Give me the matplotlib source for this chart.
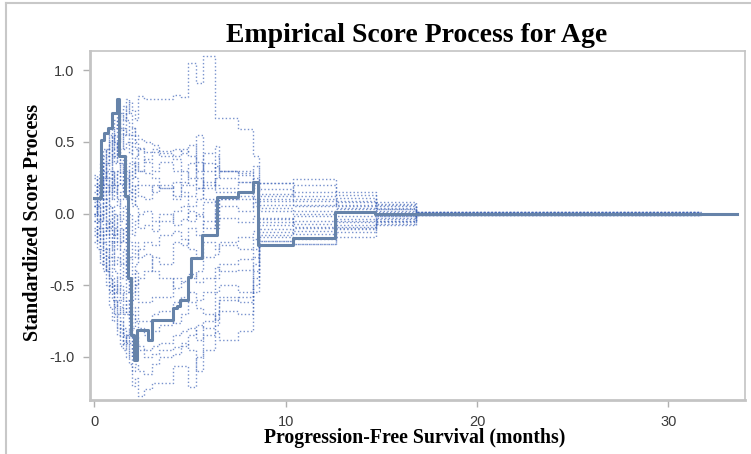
import matplotlib
matplotlib.use("Agg")
import matplotlib.pyplot as plt
from matplotlib.lines import Line2D

# event-time grid shared by the simulated paths (months)
sim_t = [0.0, 0.15, 0.3, 0.45, 0.6, 0.75, 0.9, 1.05, 1.2, 1.35, 1.5, 1.65, 1.8, 1.95, 2.1,
         2.3, 2.6, 3.0, 3.4, 4.1, 4.5, 4.9, 5.3, 5.7, 6.3, 6.5, 7.5, 8.3, 8.6, 10.4, 12.6, 14.7, 16.8]
sim_end = 31.7

# simulated score paths (dotted)
sim_paths = [
    [0.0, 0.1, 0.2, 0.15, 0.3, 0.25, 0.4, 0.35, 0.5, 0.6, 0.55, 0.7, 0.78, 0.72, 0.65,
     0.82, 0.80, 0.80, 0.80, 0.83, 0.81, 1.05, 0.91, 1.10, 0.67, 0.67, 0.59, 0.40, 0.21, 0.24, 0.15, 0.08, 0.01],
    [-0.05, -0.15, -0.1, -0.3, -0.25, -0.45, -0.5, -0.65, -0.6, -0.8, -0.9, -0.85, -1.05, -1.2, -1.15,
     -1.27, -1.22, -1.18, -1.18, -1.06, -1.06, -1.21, -1.0, -0.75, -0.55, -0.5, -0.55, -0.35, -0.19, -0.21, -0.16, -0.08, -0.012],
    [0.05, 0.12, 0.25, 0.2, 0.35, 0.3, 0.45, 0.4, 0.5, 0.55, 0.45, 0.5, 0.42, 0.55, 0.45,
     0.45, 0.36, 0.30, 0.36, 0.30, 0.22, 0.20, 0.55, 0.20, 0.40, 0.30, 0.28, 0.33, 0.14, 0.09, 0.05, 0.04, 0.01],
    [0.1, 0.05, 0.15, 0.0, 0.1, -0.1, 0.05, -0.15, 0.0, -0.2, -0.1, -0.35, -0.3, -0.5, -0.4,
     -0.62, -0.62, -0.58, -0.58, -0.45, -0.47, -0.42, -0.48, -0.45, -0.37, -0.40, -0.39, -0.30, -0.13, -0.10, -0.08, -0.05, -0.008],
    [0.15, 0.25, 0.2, 0.3, 0.15, 0.25, 0.1, 0.2, 0.05, 0.15, 0.3, 0.2, 0.35, 0.25, 0.4,
     0.46, 0.43, 0.43, 0.40, 0.38, 0.30, 0.25, 0.18, 0.42, 0.47, 0.30, 0.30, 0.22, 0.06, 0.06, 0.08, 0.03, 0.005],
    [-0.1, -0.2, -0.15, -0.35, -0.4, -0.3, -0.55, -0.5, -0.7, -0.65, -0.85, -0.9, -0.8, -1.0, -0.9,
     -0.92, -0.95, -0.92, -0.90, -0.85, -0.82, -0.80, -0.88, -0.85, -0.82, -0.88, -0.82, -0.55, -0.19, -0.21, -0.13, -0.07, -0.01],
    [0.2, 0.1, 0.28, 0.15, 0.05, 0.2, 0.3, 0.15, 0.3, 0.2, 0.1, 0.25, 0.15, 0.05, 0.2,
     0.12, 0.10, 0.20, 0.18, 0.10, 0.12, 0.05, 0.10, 0.18, 0.25, 0.30, 0.27, 0.20, 0.21, 0.15, 0.11, 0.06, 0.012],
    [-0.15, -0.05, -0.25, -0.2, -0.4, -0.55, -0.45, -0.7, -0.85, -0.75, -0.95, -0.85, -0.7, -0.8, -0.65,
     -0.75, -0.75, -0.70, -0.68, -0.76, -0.70, -0.62, -0.66, -0.70, -0.74, -0.60, -0.58, -0.40, -0.08, -0.05, -0.10, -0.03, -0.005],
    [0.0, 0.2, 0.1, 0.35, 0.45, 0.35, 0.55, 0.5, 0.35, 0.45, 0.6, 0.55, 0.5, 0.35, 0.25,
     0.20, 0.20, 0.15, 0.20, 0.12, 0.20, 0.35, 0.25, 0.10, 0.05, 0.10, 0.15, 0.10, 0.02, 0.02, 0.03, -0.01, 0.004],
    [-0.05, 0.05, -0.1, -0.2, -0.05, -0.25, -0.15, -0.35, -0.3, -0.45, -0.35, -0.55, -0.45, -0.6, -0.5,
     -0.45, -0.40, -0.30, -0.35, -0.20, -0.22, -0.10, -0.15, -0.05, -0.10, -0.03, -0.06, -0.02, -0.03, -0.07, -0.04, -0.02, -0.003],
    [0.25, 0.15, 0.3, 0.4, 0.25, 0.15, 0.3, 0.2, 0.1, -0.05, 0.05, -0.1, 0.0, -0.15, -0.05,
     0.0, 0.02, -0.05, 0.00, -0.08, -0.04, 0.02, -0.02, 0.08, -0.05, 0.05, 0.02, 0.08, 0.10, 0.10, 0.06, 0.02, 0.002],
    [0.05, -0.05, 0.0, -0.15, -0.1, -0.3, -0.2, -0.4, -0.55, -0.5, -0.7, -0.6, -0.75, -0.9, -0.85,
     -0.95, -1.0, -0.98, -0.95, -0.93, -0.90, -0.95, -1.10, -0.95, -0.70, -0.58, -0.62, -0.50, -0.16, -0.18, -0.11, -0.06, -0.009],
    [0.1, 0.2, 0.35, 0.25, 0.45, 0.55, 0.45, 0.6, 0.7, 0.6, 0.75, 0.65, 0.55, 0.6, 0.5,
     0.30, 0.28, 0.25, 0.18, 0.22, 0.15, 0.12, 0.18, 0.22, 0.20, 0.18, 0.22, 0.25, 0.17, 0.12, 0.09, 0.05, 0.007],
    [-0.2, -0.1, -0.3, -0.4, -0.3, -0.5, -0.6, -0.55, -0.45, -0.6, -0.55, -0.7, -0.6, -0.55, -0.35,
     -0.25, -0.20, -0.22, -0.15, -0.12, -0.18, -0.25, -0.30, -0.20, -0.25, -0.22, -0.25, -0.18, -0.11, -0.14, -0.06, -0.04, -0.006],
    [0.0, -0.1, 0.05, 0.1, 0.2, 0.1, 0.2, 0.3, 0.2, 0.35, 0.2, 0.3, 0.1, 0.2, 0.05,
     -0.10, -0.08, -0.12, -0.05, 0.02, 0.05, -0.05, 0.00, -0.10, 0.02, 0.10, 0.12, 0.05, 0.04, 0.00, 0.01, 0.01, -0.002],
    [0.05, 0.0, -0.05, 0.05, -0.15, -0.05, -0.2, -0.1, -0.25, -0.1, -0.2, -0.05, -0.2, -0.3, -0.2,
     -0.30, -0.28, -0.40, -0.45, -0.52, -0.48, -0.45, -0.40, -0.30, -0.28, -0.20, -0.16, -0.12, -0.06, -0.02, -0.02, 0.00, -0.001],
    [0.27, 0.2, 0.1, 0.25, 0.35, 0.5, 0.4, 0.55, 0.45, 0.3, 0.4, 0.3, 0.15, 0.3, 0.35,
     0.30, 0.38, 0.45, 0.42, 0.40, 0.45, 0.40, 0.30, 0.35, 0.15, 0.15, 0.10, 0.12, 0.09, 0.05, 0.04, 0.03, 0.006],
    [-0.12, -0.25, -0.35, -0.25, -0.5, -0.65, -0.75, -0.6, -0.8, -0.92, -0.8, -1.0, -0.9, -1.1, -1.05,
     -1.10, -1.12, -1.05, -1.00, -0.98, -0.92, -0.85, -0.78, -0.80, -0.78, -0.68, -0.70, -0.45, -0.15, -0.12, -0.09, -0.05, -0.007],
    [0.08, 0.18, 0.3, 0.45, 0.4, 0.6, 0.5, 0.65, 0.55, 0.7, 0.65, 0.8, 0.7, 0.6, 0.55,
     0.52, 0.50, 0.48, 0.44, 0.45, 0.42, 0.48, 0.36, 0.30, 0.33, 0.25, 0.22, 0.18, 0.12, 0.20, 0.13, 0.07, 0.011],
    [-0.02, 0.08, -0.05, 0.1, -0.1, 0.05, -0.15, 0.0, -0.2, -0.35, -0.25, -0.45, -0.55, -0.7, -0.75,
     -0.80, -0.85, -0.82, -0.78, -0.62, -0.58, -0.55, -0.60, -0.55, -0.45, -0.35, -0.32, -0.25, -0.04, -0.09, -0.05, -0.02, -0.004],
]

# observed score process (solid)
obs_t = [0.0, 0.34, 0.5, 0.7, 0.91, 1.17, 1.28, 1.6, 1.75, 1.9, 2.05, 2.25, 2.8, 3.0, 4.1, 4.3, 4.45,
         4.9, 5.05, 5.6, 6.4, 7.5, 8.27, 8.55, 10.37, 12.56, 14.65, 16.8]
obs_v = [0.11, 0.51, 0.56, 0.60, 0.70, 0.80, 0.40, 0.12, -0.45, -0.85, -1.02, -0.81, -0.88, -0.745, -0.66, -0.645, -0.60,
         -0.44, -0.31, -0.15, 0.115, 0.15, 0.22, -0.22, -0.17, 0.01, 0.0, 0.0]
obs_end = 33.6

fig = plt.figure(figsize=(7.51, 4.54), dpi=100)
ax = fig.add_axes([90 / 751, 1 - 400 / 454, 655 / 751, 349 / 454])

for vals in sim_paths:
    ax.step(sim_t + [sim_end], vals + [vals[-1]], where='post',
            color='#3f64b8', linestyle=':', linewidth=1.0, alpha=0.7)

ax.step(obs_t + [obs_end], obs_v + [obs_v[-1]], where='post',
        color='#6683a9', linewidth=2.2)

ax.set_xlim(-0.23, 34.0)
ax.set_ylim(-1.30, 1.134)
ax.set_xticks([0, 10, 20, 30])
ax.set_yticks([-1.0, -0.5, 0.0, 0.5, 1.0])
ax.set_yticklabels(['-1.0', '-0.5', '0.0', '0.5', '1.0'])

for s in ax.spines.values():
    s.set_color('#c4c4c4')
    s.set_linewidth(1.2)
ax.spines['left'].set_linewidth(2)
ax.spines['bottom'].set_linewidth(2)
ax.tick_params(direction='out', length=5, width=1, color='#b0b0b0',
               labelcolor='#3a3a3a', labelsize=10.5, pad=6)
for lab in ax.get_xticklabels() + ax.get_yticklabels():
    lab.set_family('Liberation Sans')

fig.text(417 / 751, 1 - 35 / 454, 'Empirical Score Process for Age', ha='center', va='center',
         family='Liberation Serif', fontweight='bold', fontsize=20)
fig.text(415 / 751, 1 - 438 / 454, 'Progression-Free Survival (months)', ha='center', va='center',
         family='Liberation Serif', fontweight='bold', fontsize=14.2)
fig.text(33 / 751, 1 - 222 / 454, 'Standardized Score Process', ha='center', va='center', rotation=90,
         family='Liberation Serif', fontweight='bold', fontsize=14.5)

# outer frame of the original screenshot
fig.add_artist(Line2D([6 / 751, 1], [1 - 3 / 454, 1 - 3 / 454], color='#c8c8c8', lw=1.5))
fig.add_artist(Line2D([6 / 751, 6 / 751], [0, 1 - 3 / 454], color='#c8c8c8', lw=1.5))

fig.savefig('out.png', dpi=100)
